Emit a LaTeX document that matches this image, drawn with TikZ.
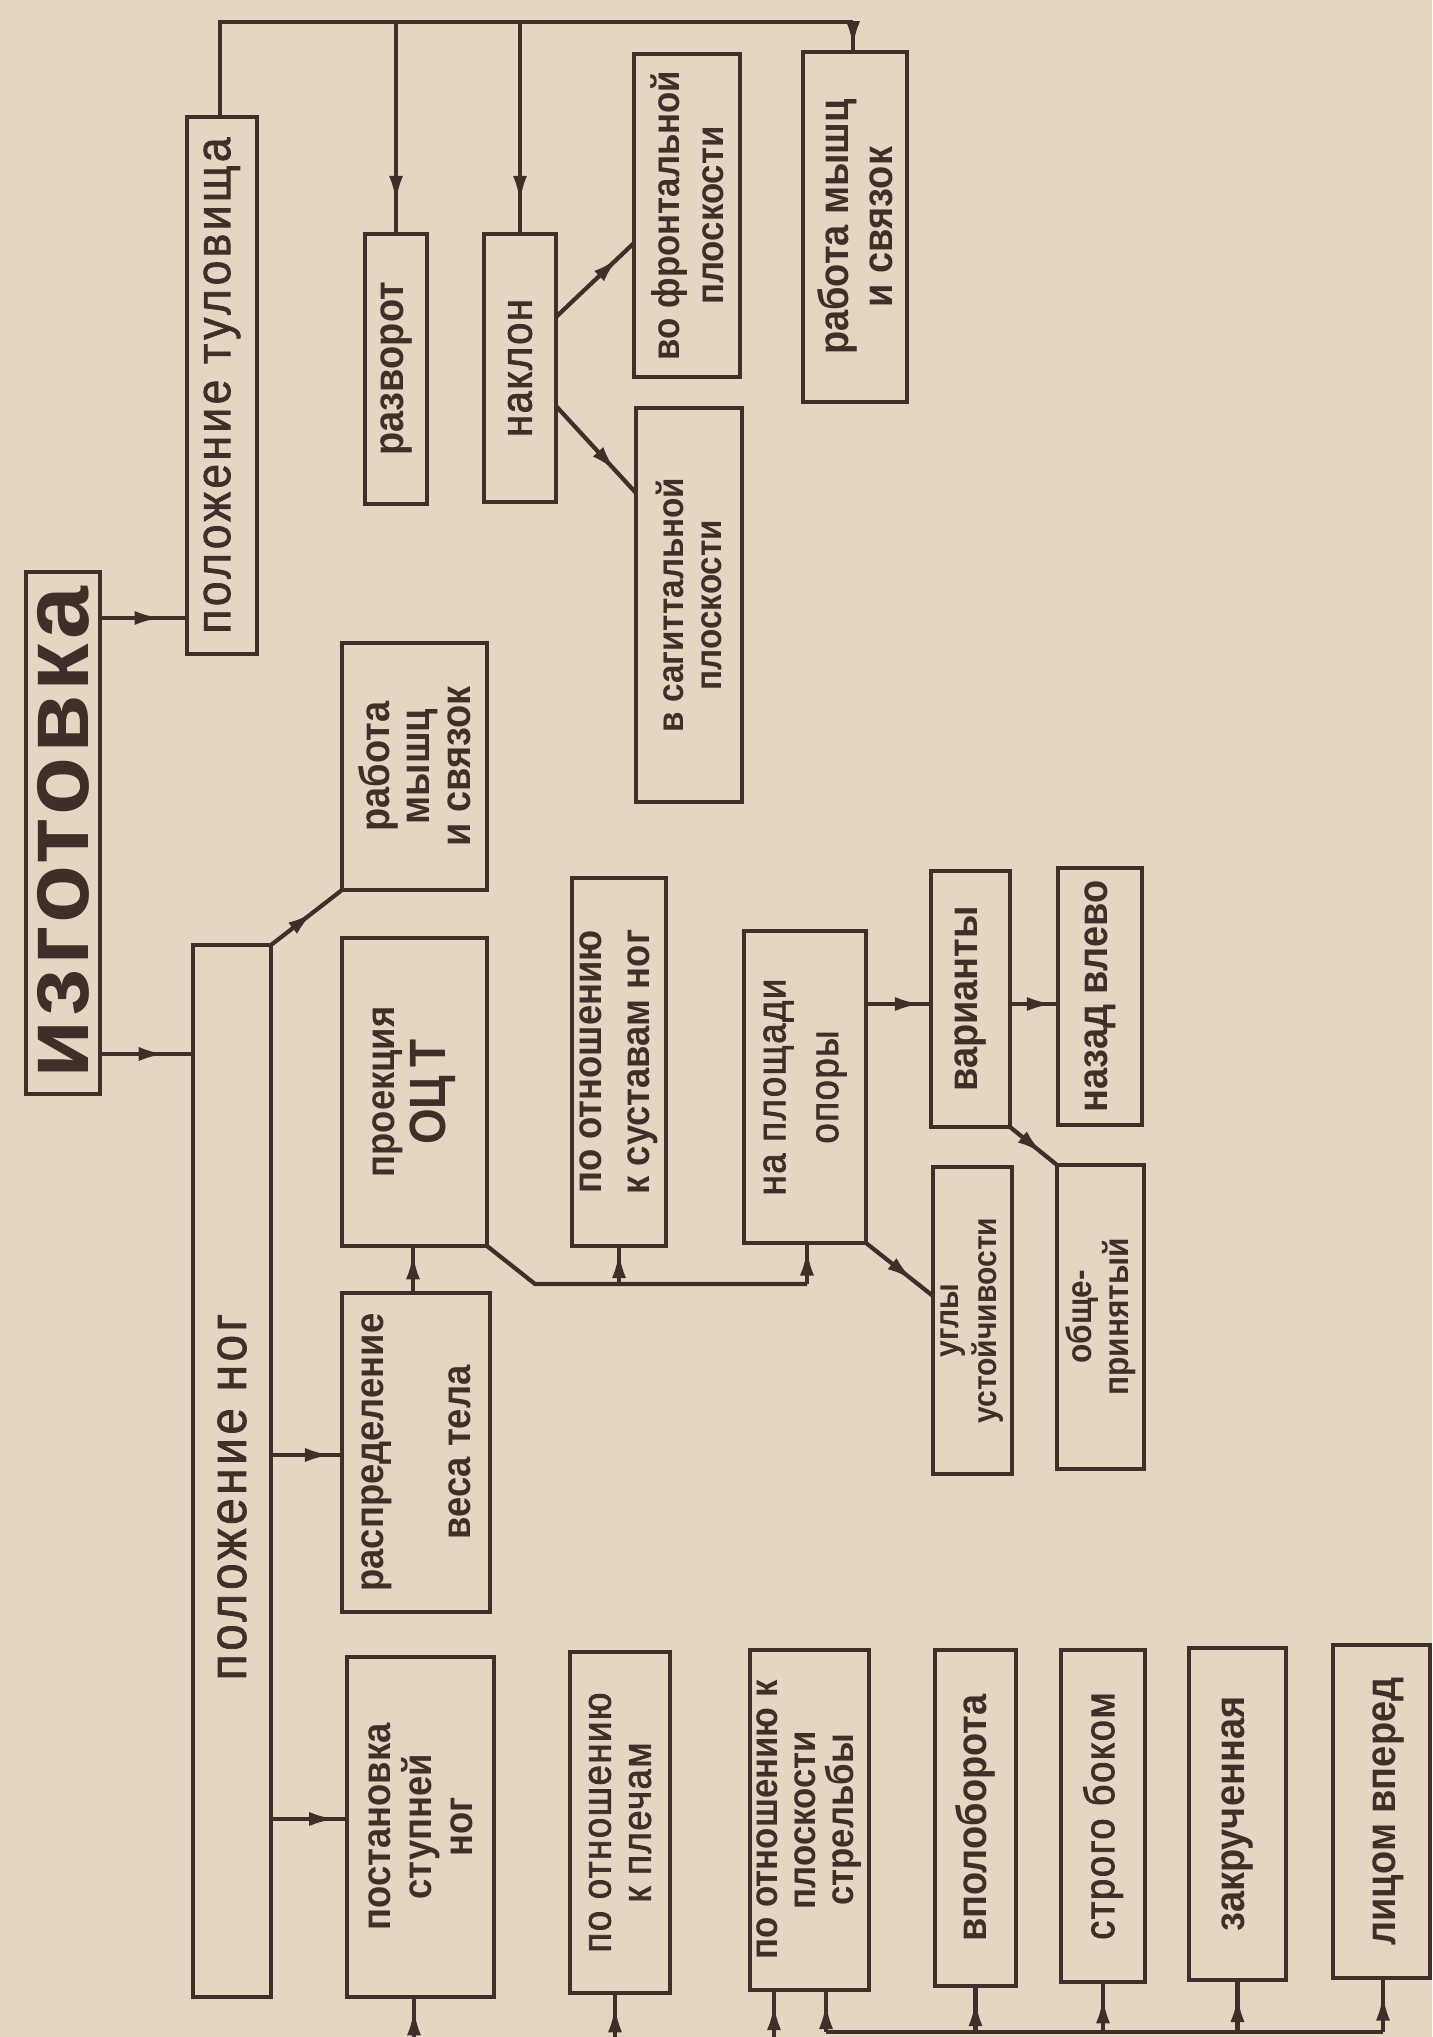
\documentclass[tikz,border=0pt]{standalone}
\usepackage{fontspec}
\setmainfont[FakeStretch=0.9]{Liberation Sans}
\newfontfamily\titlefont[LetterSpace=4]{Liberation Sans}
\newfontfamily\medfont[FakeStretch=0.9,FakeBold=2,LetterSpace=4]{Liberation Sans}
\newfontfamily\widefont[FakeStretch=0.9,FakeBold=1.5,LetterSpace=7]{Liberation Sans}
\usetikzlibrary{arrows.meta,decorations.markings,fit}
\definecolor{bg}{RGB}{229,214,196}
\definecolor{ink}{RGB}{62,48,40}
\begin{document}
\begin{tikzpicture}[x=0.01cm,y=-0.01cm,
 box/.style={draw=ink,line width=1.4pt,inner sep=0pt,outer sep=0pt},
 txt/.style={rotate=90,align=center,inner sep=0pt,text=ink,font=\fontsize{12}{13}\selectfont\bfseries},
 conn/.style={draw=ink,line width=1.2pt},
 arr/.style={conn,postaction={decorate},decoration={markings,mark=at position #1 with {\arrow{Latex[length=7.5pt,width=4pt]}}}},
 arr/.default=0.8]
\useasboundingbox (0,0) rectangle (1432,2037);
\fill[bg] (0,0) rectangle (1432,2037);
\clip (0,0) rectangle (1432,2037);

% boxes
\node[box,fit={(26,572) (100,1094)}] (izg) {};
\node[box,fit={(187,117) (257,654)}] (tul) {};
\node[box,fit={(193,945) (271,1997)}] (nog) {};
\node[box,fit={(365,234) (427,504)}] (razv) {};
\node[box,fit={(484,234) (556,502)}] (nakl) {};
\node[box,fit={(634,54) (740,377)}] (front) {};
\node[box,fit={(636,408) (742,802)}] (sag) {};
\node[box,fit={(803,52) (907,402)}] (rab1) {};
\node[box,fit={(342,643) (487,890)}] (rab2) {};
\node[box,fit={(342,938) (487,1246)}] (proj) {};
\node[box,fit={(572,878) (666,1246)}] (sust) {};
\node[box,fit={(744,931) (866,1243)}] (ploshch) {};
\node[box,fit={(931,871) (1010,1127)}] (var) {};
\node[box,fit={(1058,868) (1142,1125)}] (nazad) {};
\node[box,fit={(933,1167) (1012,1474)}] (ugly) {};
\node[box,fit={(1057,1165) (1144,1469)}] (obsh) {};
\node[box,fit={(342,1293) (490,1612)}] (raspr) {};
\node[box,fit={(347,1657) (494,1997)}] (post) {};
\node[box,fit={(570,1652) (670,1993)}] (plechi) {};
\node[box,fit={(750,1650) (869,1990)}] (strel) {};
\node[box,fit={(935,1650) (1016,1986)}] (vpol) {};
\node[box,fit={(1061,1650) (1145,1982)}] (strogo) {};
\node[box,fit={(1189,1648) (1286,1980)}] (zakr) {};
\node[box,fit={(1333,1645) (1430,1978)}] (lico) {};

% texts
\node[txt,font={\titlefont\fontsize{27}{29}\selectfont\bfseries}] (izgT) at (izg) {изготовка};
\node[txt,font={\widefont\fontsize{14}{15}\selectfont}] (tulT) at (tul) {положение туловища};
\node[txt,font={\widefont\fontsize{15}{16}\selectfont}] (nogT) at ([yshift=-0.26cm]nog.center) {положение ног};
\node[txt] (razvT) at (razv) {разворот};
\node[txt,font={\medfont\fontsize{12.5}{14}\selectfont}] (naklT) at (nakl) {наклон};
\node[txt,font={\fontsize{11}{12.5}\selectfont\bfseries}] (frontT) at (front) {во фронтальной\\плоскости};
\node[txt,font={\fontsize{10.5}{11}\selectfont\bfseries}] (sagT) at (sag) {в сагиттальной\\плоскости};
\node[txt,font={\fontsize{12}{12.5}\selectfont\bfseries}] (rab1T) at (rab1) {работа мышц\\и связок};
\node[txt,font={\fontsize{12}{11.5}\selectfont\bfseries}] (rab2T) at (rab2) {работа\\мышц\\и связок};
\node[txt,font={\fontsize{11.5}{14.5}\selectfont\bfseries}] (projT) at (proj) {проекция\\{\fontsize{14.5}{14.5}\selectfont ОЦ\,Т}};
\node[txt,font={\fontsize{11.5}{13.5}\selectfont\bfseries}] (sustT) at (sust) {по отношению\\к суставам ног};
\node[txt,font={\medfont\fontsize{11.5}{15}\selectfont}] (ploshchT) at (ploshch) {на площади\\опоры};
\node[txt] (varT) at (var) {варианты};
\node[txt] (nazadT) at (nazad) {назад влево};
\node[txt,font={\fontsize{9.5}{10.8}\selectfont\bfseries}] (uglyT) at (ugly) {углы\\устойчивости};
\node[txt,font={\fontsize{10}{9}\selectfont\bfseries}] (obshT) at (obsh) {обще-\\принятый};
\node[txt,font={\fontsize{11.5}{24.7}\selectfont\bfseries}] (rasprT) at (raspr) {распределение\\веса тела};
\node[txt,font={\fontsize{11.5}{11.7}\selectfont\bfseries}] (postT) at (post) {постановка\\ступней\\ног};
\node[txt,font={\medfont\fontsize{11.5}{11.4}\selectfont}] (plechiT) at (plechi) {по отношению\\к плечам};
\node[txt,font={\fontsize{11}{10.8}\selectfont\bfseries}] (strelT) at (strel) {по отношению к\\плоскости\\стрельбы};
\node[txt] (vpolT) at (vpol) {вполоборота};
\node[txt,font={\medfont\fontsize{12}{13}\selectfont}] (strogoT) at (strogo) {строго боком};
\node[txt] (zakrT) at (zakr) {закрученная};
\node[txt] (licoT) at ([xshift=2]lico.center) {лицом вперед};

% connectors
\draw[arr=0.7] (izg.east |- 0,618) -- (tul.west |- 0,618);
\draw[arr=0.7] (izg.east |- 0,1054) -- (nog.west |- 0,1054);
\coordinate (bL) at (220,22);
\coordinate (bR) at (853,22);
\draw[conn] (tul.north -| bL) -- (bL) -- (bR);
\draw[arr=0.85] (bR) -- (rab1.north -| bR);
\draw[arr=0.85] (razv.north |- bL) -- (razv.north);
\draw[arr=0.85] (nakl.north |- bL) -- (nakl.north);
\draw[arr=0.8] (nakl.east |- 0,317) -- (front.west |- 0,243);
\draw[arr=0.75] (nakl.east |- 0,406) -- (sag.west |- 0,493);
\draw[arr=0.6] (nog.north east) -- (rab2.south west);
\draw[arr=0.85] (nog.east |- 0,1455) -- (raspr.west |- 0,1455);
\draw[arr=0.85] (nog.east |- 0,1819) -- (post.west |- 0,1819);
\draw[arr=0.85] (raspr.north -| 413,0) -- (proj.south -| 413,0);
\coordinate (pb) at (535,1284);
\coordinate (pe) at (807,1284);
\draw[conn] (proj.south east) -- (pb) -- (pe);
\draw[arr=0.85] (sust.south |- pb) -- (sust.south);
\draw[arr=0.85] (pe) -- (ploshch.south -| pe);
\draw[arr=0.85] (ploshch.east |- 0,1004) -- (var.west |- 0,1004);
\draw[arr=0.9] (var.east |- 0,1004) -- (nazad.west |- 0,1004);
\draw[arr=0.7] (var.south east) -- (obsh.north west);
\draw[arr=0.7] (ploshch.south east) -- (ugly.west |- 0,1296);

\coordinate (e1) at (414,2045);
\coordinate (e2) at (615,2045);
\coordinate (e3) at (774,2045);
\coordinate (s1) at (826,2032);
\coordinate (s2) at (1383,2032);
\draw[arr=0.75] (e1) -- (post.south -| e1);
\draw[arr=0.75] (e2) -- (plechi.south -| e2);
\draw[arr=0.75] (e3) -- (strel.south -| e3);
\draw[conn] (s1) -- (s2);
\draw[arr=0.7] (s1) -- (strel.south -| s1);
\draw[arr=0.7] (vpol.south |- s1) -- (vpol.south);
\draw[arr=0.7] (strogo.south |- s1) -- (strogo.south);
\draw[arr=0.7] (zakr.south |- s1) -- (zakr.south);
\draw[arr=0.7] (s2) -- (lico.south -| s2);
\end{tikzpicture}
\end{document}
